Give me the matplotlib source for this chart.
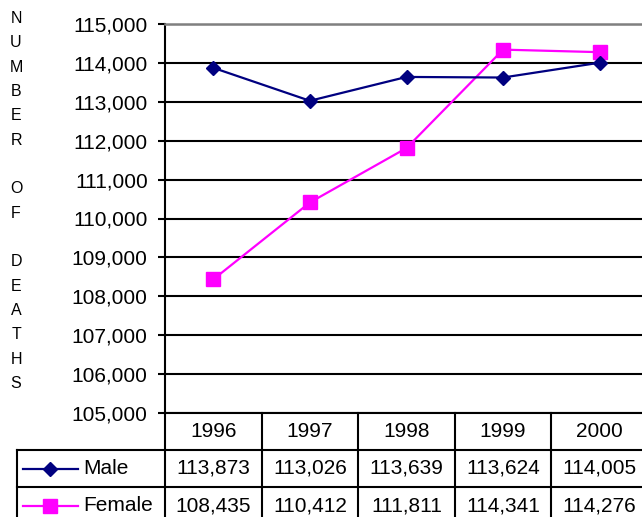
import matplotlib
matplotlib.use("Agg")
import matplotlib.pyplot as plt
from matplotlib.lines import Line2D
import matplotlib.transforms as mtransforms

plt.rcParams["font.family"] = ["Liberation Sans", "DejaVu Sans"]

years = ["1996", "1997", "1998", "1999", "2000"]
male = [113873, 113026, 113639, 113624, 114005]
female = [108435, 110412, 111811, 114341, 114276]
y_ticks = [105000, 106000, 107000, 108000, 109000, 110000,
           111000, 112000, 113000, 114000, 115000]

navy = "#000080"
magenta = "#FF00FF"
fs = 15

fig = plt.figure(figsize=(6.42, 5.17), dpi=100)
ax = fig.add_axes([165/642, 1-413/517, 483/642, 389/517])

x = list(range(len(years)))
ax.plot(x, male, color=navy, lw=1.6, marker="D", ms=7.2, zorder=4, clip_on=False)
ax.plot(x, female, color=magenta, lw=1.6, marker="s", ms=10.5, zorder=3, clip_on=False)

ax.set_xlim(-0.5, len(years) - 0.5)
ax.set_ylim(105000, 115000)
ax.set_yticks(y_ticks)
ax.set_yticklabels([f"{v:,}" for v in y_ticks], fontsize=fs)
ax.tick_params(axis="y", length=5, width=1.5, pad=7.5, direction="out")
ax.set_xticks([])
ax.yaxis.grid(True, color="black", lw=1.5)
ax.set_axisbelow(True)
for s in ["left", "bottom"]:
    ax.spines[s].set_color("black")
    ax.spines[s].set_linewidth(1.5)
ax.spines["top"].set_color("#808080")
ax.spines["top"].set_linewidth(1.8)
ax.spines["right"].set_visible(False)

# data table under the plot
trans = mtransforms.blended_transform_factory(ax.transData, ax.transAxes)
h = 37 / 389
x_leg = -0.5 - 148 / 96.6
x_end = len(years) - 0.5
kw = dict(transform=trans, clip_on=False, color="black", lw=1.5)

for k in range(1, 4):
    ax.add_line(Line2D([x_leg, x_end], [-k*h, -k*h], **kw))
for k in range(len(years) + 1):
    ax.add_line(Line2D([k - 0.5, k - 0.5], [0, -3*h], **kw))
ax.add_line(Line2D([x_leg, x_leg], [-h, -3*h], **kw))

for i, yr in enumerate(years):
    ax.text(i, -0.5*h, yr, transform=trans, ha="center", va="center", fontsize=fs)
    ax.text(i, -1.5*h, f"{male[i]:,}", transform=trans, ha="center", va="center", fontsize=fs)
    ax.text(i, -2.5*h, f"{female[i]:,}", transform=trans, ha="center", va="center", fontsize=fs)

series = [("Male", navy, "D", 7.2), ("Female", magenta, "s", 10.5)]
for r, (name, col, mk, ms) in enumerate(series):
    yy = -(1.5 + r) * h
    ax.add_line(Line2D([-0.5 - 142/96.6, -0.5 - 87/96.6], [yy, yy], transform=trans,
                       clip_on=False, color=col, lw=1.6))
    ax.add_line(Line2D([-0.5 - 115/96.6], [yy], transform=trans, clip_on=False,
                       color=col, marker=mk, ms=ms, lw=0))
    ax.text(-0.5 - 82/96.6, yy, name, transform=trans, ha="left", va="center", fontsize=fs)

fig.text(16/642, 1 - 201/517, "N\nU\nM\nB\nE\nR\n\nO\nF\n\nD\nE\nA\nT\nH\nS",
         ha="center", va="center", multialignment="center", fontsize=11.5, linespacing=1.78)

fig.savefig("out.png", dpi=100)
